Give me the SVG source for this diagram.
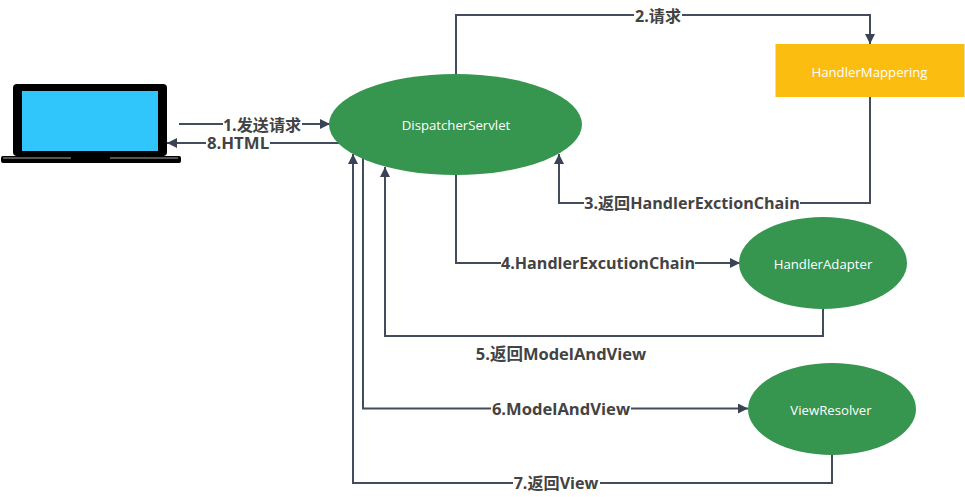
<svg xmlns="http://www.w3.org/2000/svg" width="965" height="497" viewBox="0 0 965 497">
<style>
.c{fill:none;stroke:#434c5c;stroke-width:2;marker-end:url(#a)}
.n{fill:#36954f}
.t{font:13.200px "Open Sans","Noto Sans","Noto Sans CJK SC",sans-serif;fill:#fff;text-anchor:middle}
.l{font:bold 16.100px "Open Sans","Noto Sans","Noto Sans CJK SC",sans-serif;fill:#434343;text-anchor:middle}
.b{fill:#fff}
</style>
<defs><marker id="a" markerUnits="userSpaceOnUse" markerWidth="11" markerHeight="10" refX="10" refY="5" orient="auto"><path d="M0 0L10 5L0 10Z" fill="#3a4355"/></marker></defs>
<rect width="965" height="497" fill="#fff"/>
<g id="connectors">
<path class="c" d="M179 124H330"/>
<path class="c" d="M340 143H167"/>
<path class="c" d="M456 74V15H870V44"/>
<path class="c" d="M870 97V203H559V154"/>
<path class="c" d="M456 175V263H740"/>
<path class="c" d="M823 309V336H385V167"/>
<path class="c" d="M363 158V408.500H748"/>
<path class="c" d="M832 455V483H353V154"/>
</g>
<g id="labels">
<rect class="b" x="223" y="114" width="79" height="20"/><text class="l" x="262" y="131">1.发送请求</text>
<rect class="b" x="206" y="134" width="64" height="18"/><text class="l" x="238" y="149" font-size="16.500" style="font-size:16.800px">8.HTML</text>
<rect class="b" x="634" y="6" width="48" height="19"/><text class="l" x="658" y="22">2.请求</text>
<rect class="b" x="584" y="193" width="216" height="20"/><text class="l" x="692" y="209">3.返回HandlerExctionChain</text>
<rect class="b" x="501" y="253" width="194" height="20"/><text class="l" x="598" y="269">4.HandlerExcutionChain</text>
<text class="l" x="561" y="360" style="font-size:16.500px">5.返回ModelAndView</text>
<rect class="b" x="491" y="399" width="140" height="20"/><text class="l" x="561" y="415" style="font-size:16.600px">6.ModelAndView</text>
<rect class="b" x="513" y="473" width="87" height="20"/><text class="l" x="556" y="489">7.返回View</text>
</g>
<g id="client">
<rect x="13" y="84" width="154" height="72" rx="4" fill="#000"/>
<rect x="22" y="91" width="136" height="60" fill="#30c6fb"/>
<rect x="1" y="156" width="180" height="7" rx="2" fill="#000"/>
<rect x="3" y="157" width="68" height="2" fill="#555"/>
<rect x="110" y="157" width="68" height="2" fill="#555"/>
</g>
<g id="dispatcher"><ellipse class="n" cx="455.500" cy="124.500" rx="126.500" ry="50.500"/><text class="t" x="456" y="130">DispatcherServlet</text></g>
<g id="mapping"><rect x="775.500" y="44" width="189" height="53" fill="#fbbd10"/><text class="t" x="869.500" y="77">HandlerMappering</text></g>
<g id="adapter"><ellipse class="n" cx="823" cy="263" rx="84" ry="46"/><text class="t" x="823" y="269">HandlerAdapter</text></g>
<g id="resolver"><ellipse class="n" cx="832" cy="409" rx="84" ry="46"/><text class="t" x="831" y="415">ViewResolver</text></g>
</svg>
